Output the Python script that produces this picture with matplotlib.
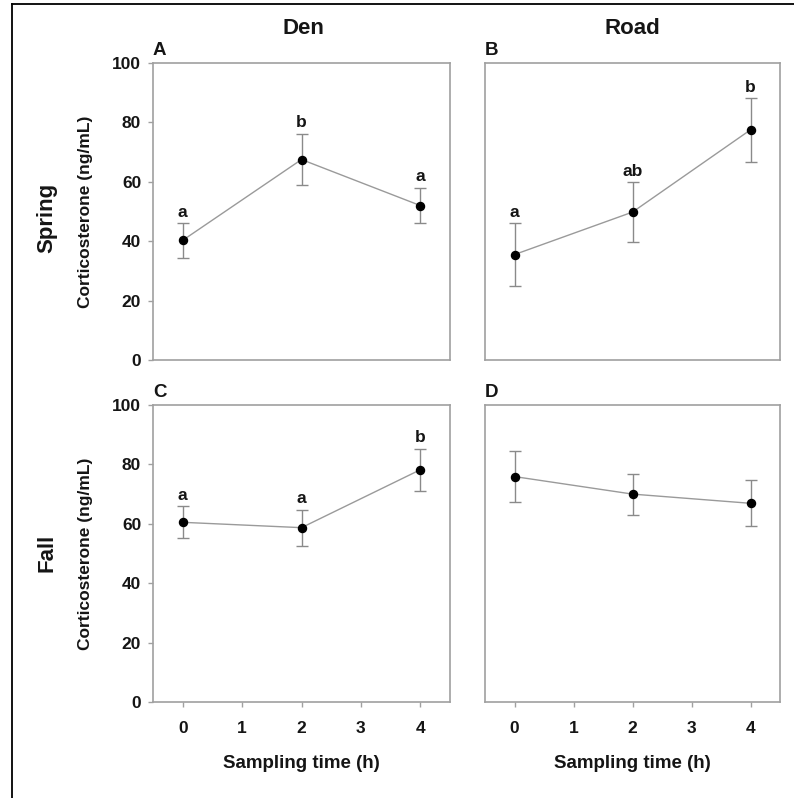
import matplotlib
matplotlib.use("Agg")
import matplotlib.pyplot as plt
from matplotlib.lines import Line2D

plt.rcParams['font.family'] = ['Liberation Sans', 'DejaVu Sans']
plt.rcParams['font.weight'] = 'bold'

times = [0, 2, 4]
x_ticks = [0, 1, 2, 3, 4]
y_ticks = [0, 20, 40, 60, 80, 100]

den_spring = [40.3, 67.5, 52.0]
den_spring_err = [5.8, 8.7, 6.0]
den_spring_letters = ['a', 'b', 'a']

road_spring = [35.5, 49.8, 77.5]
road_spring_err = [10.5, 10.1, 10.7]
road_spring_letters = ['a', 'ab', 'b']

den_fall = [60.5, 58.7, 78.2]
den_fall_err = [5.4, 6.1, 7.0]
den_fall_letters = ['a', 'a', 'b']

road_fall = [75.9, 70.0, 66.9]
road_fall_err = [8.5, 6.9, 7.7]
road_fall_letters = ['', '', '']

col_titles = ['Den', 'Road']
row_titles = ['Spring', 'Fall']
panel_letters = ['A', 'B', 'C', 'D']

W, H = 794, 798
fig = plt.figure(figsize=(W / 100, H / 100), dpi=100)

def rect(l, t, r, b):
    return [l / W, (H - b) / H, (r - l) / W, (b - t) / H]

rects = [rect(153, 63, 450, 360), rect(485, 63, 780, 360),
         rect(153, 405, 450, 702), rect(485, 405, 780, 702)]
data = [(den_spring, den_spring_err, den_spring_letters),
        (road_spring, road_spring_err, road_spring_letters),
        (den_fall, den_fall_err, den_fall_letters),
        (road_fall, road_fall_err, road_fall_letters)]

spine_col = '#a0a0a0'
txt_col = '#151515'
axes = []
for i, (r, (vals, errs, letters)) in enumerate(zip(rects, data)):
    ax = fig.add_axes(r)
    axes.append(ax)
    ax.errorbar(times, vals, yerr=errs, fmt='none', ecolor='#8a8a8a',
                elinewidth=1.0, capsize=4.5, capthick=1.0, zorder=2)
    ax.plot(times, vals, '-', color='#9a9a9a', lw=1.0, zorder=2)
    ax.plot(times, vals, 'o', color='black', ms=5.8, zorder=3)
    for t, v, e, s in zip(times, vals, errs, letters):
        if s:
            ax.annotate(s, (t, v + e), xytext=(0, 2.5), textcoords='offset points',
                        ha='center', va='bottom', fontsize=12.5, fontweight='bold',
                        color=txt_col)
    ax.set_xlim(-0.5, 4.5)
    ax.set_ylim(0, 100)
    for sp in ax.spines.values():
        sp.set_color(spine_col)
        sp.set_linewidth(1.2)
    row, col = divmod(i, 2)
    if col == 0:
        ax.set_yticks(y_ticks)
        ax.set_ylabel('Corticosterone (ng/mL)', fontsize=12.5, fontweight='bold',
                      labelpad=14, color=txt_col)
    else:
        ax.set_yticks([])
    if row == 1:
        ax.set_xticks(x_ticks)
        ax.set_xlabel('Sampling time (h)', fontsize=13.5, fontweight='bold',
                      labelpad=14, color=txt_col)
    else:
        ax.set_xticks([])
    ax.tick_params(axis='both', direction='out', length=3.5, width=1.0,
                   color=spine_col, labelsize=12.5, labelcolor=txt_col)
    ax.tick_params(axis='x', pad=10)
    ax.tick_params(axis='y', pad=5)
    for lab in ax.get_xticklabels() + ax.get_yticklabels():
        lab.set_fontweight('bold')
    ax.text(0.0, 1.012, panel_letters[i], transform=ax.transAxes, ha='left',
            va='bottom', fontsize=13.5, fontweight='bold', color=txt_col)

fig.text(303 / W, 1 - 29 / H, col_titles[0], ha='center', va='center',
         fontsize=16, fontweight='bold', color=txt_col)
fig.text(632 / W, 1 - 29 / H, col_titles[1], ha='center', va='center',
         fontsize=16, fontweight='bold', color=txt_col)
fig.text(47 / W, 1 - 218 / H, row_titles[0], ha='center', va='center',
         rotation=90, fontsize=16, fontweight='bold', color=txt_col)
fig.text(47 / W, 1 - 553 / H, row_titles[1], ha='center', va='center',
         rotation=90, fontsize=16, fontweight='bold', color=txt_col)

fig.add_artist(Line2D([12 / W, 12 / W], [0, 1 - 4 / H], transform=fig.transFigure,
                      color='black', lw=1.3))
fig.add_artist(Line2D([12 / W, 1], [1 - 4 / H, 1 - 4 / H], transform=fig.transFigure,
                      color='black', lw=1.3))

fig.savefig('out.png', dpi=100)
